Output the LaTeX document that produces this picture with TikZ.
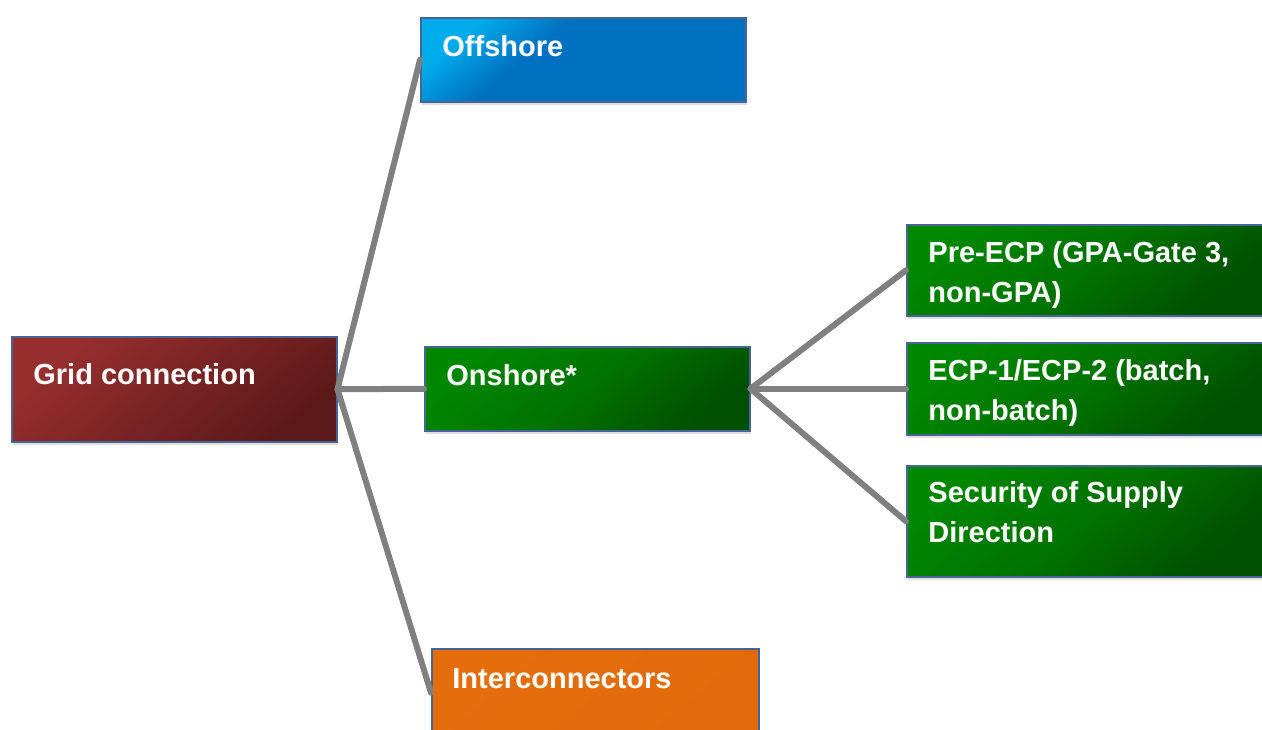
\documentclass[tikz,border=0pt]{standalone}
\usepackage{fontspec}
\setmainfont{Liberation Sans}
\usetikzlibrary{shadows}
\definecolor{edgeblue}{RGB}{70,100,150}
\definecolor{linegray}{RGB}{128,128,128}
\definecolor{redA}{RGB}{152,47,47}
\definecolor{redB}{RGB}{92,25,25}
\definecolor{blueA}{RGB}{0,172,236}
\definecolor{blueB}{RGB}{0,112,192}
\definecolor{greenA}{RGB}{0,135,0}
\definecolor{greenB}{RGB}{0,80,0}
\definecolor{orangeA}{RGB}{228,110,12}
\definecolor{orangeB}{RGB}{225,106,10}
\pgfdeclareverticalshading{blueshade}{100bp}{color(0bp)=(blueB); color(25bp)=(blueB); color(60bp)=(blueB); color(75bp)=(blueA); color(100bp)=(blueA)}
\pgfdeclareverticalshading{greenshade}{100bp}{color(0bp)=(greenB); color(25bp)=(greenB); color(50bp)=(green!45!black); color(75bp)=(greenA); color(100bp)=(greenA)}
\tikzset{
  box/.style={draw=edgeblue, line width=0.75pt, rectangle, inner sep=0pt,
    drop shadow={shadow xshift=0.8pt, shadow yshift=-1.6pt, opacity=0.25}},
  redbox/.style={box, top color=redA, bottom color=redB, shading angle=40},
  bluebox/.style={box, shading=blueshade, shading angle=40},
  greenbox/.style={box, shading=greenshade, shading angle=40},
  orangebox/.style={box, top color=orangeA, bottom color=orangeB, shading angle=40},
  lbl/.style={inner sep=0pt, text=white, font=\fontsize{14.5pt}{19.75pt}\selectfont\bfseries, align=left, anchor=base west},
  conn/.style={draw=linegray, line width=3pt, line cap=round}
}
\begin{document}
\begin{tikzpicture}[x=0.5pt, y=-0.5pt]
\useasboundingbox (0,0) rectangle (1262,729);
\clip (0,0) rectangle (1262,729);
% boxes
\node[redbox, minimum width=162.5pt, minimum height=52.5pt, anchor=north west] (grid) at (11,336) {};
\node[bluebox, minimum width=162.5pt, minimum height=42pt, anchor=north west] (off) at (420,17) {};
\node[greenbox, minimum width=162.5pt, minimum height=42pt, anchor=north west] (on) at (424,346) {};
\node[orangebox, minimum width=163.5pt, minimum height=44pt, anchor=north west] (inter) at (431,648) {};
\node[greenbox, minimum width=180pt, minimum height=45.5pt, anchor=north west] (pre) at (906,224) {};
\node[greenbox, minimum width=180pt, minimum height=46pt, anchor=north west] (ecp) at (906,342) {};
\node[greenbox, minimum width=180pt, minimum height=55.5pt, anchor=north west] (sec) at (906,465) {};
% labels
\node[lbl] (tgrid) at (33,384) {Grid connection};
\node[lbl] (toff) at (442,56) {Offshore};
\node[lbl] (ton) at (446,385) {Onshore*};
\node[lbl] (tinter) at (452,688) {Interconnectors};
\node[lbl] (tpre) at (928,302) {Pre-ECP (GPA-Gate 3,\\non-GPA)};
\node[lbl] (tecp) at (928,420) {ECP-1/ECP-2 (batch,\\non-batch)};
\node[lbl] (tsec) at (928,542) {Security of Supply\\Direction};
% connectors
\draw[conn] (grid.east) -- (off.west);
\draw[conn] (grid.east) -- (on.west);
\draw[conn] (grid.east) -- (inter.west);
\draw[conn] (on.east) -- (pre.west);
\draw[conn] (on.east) -- (ecp.west);
\draw[conn] (on.east) -- (sec.west);
\end{tikzpicture}
\end{document}
